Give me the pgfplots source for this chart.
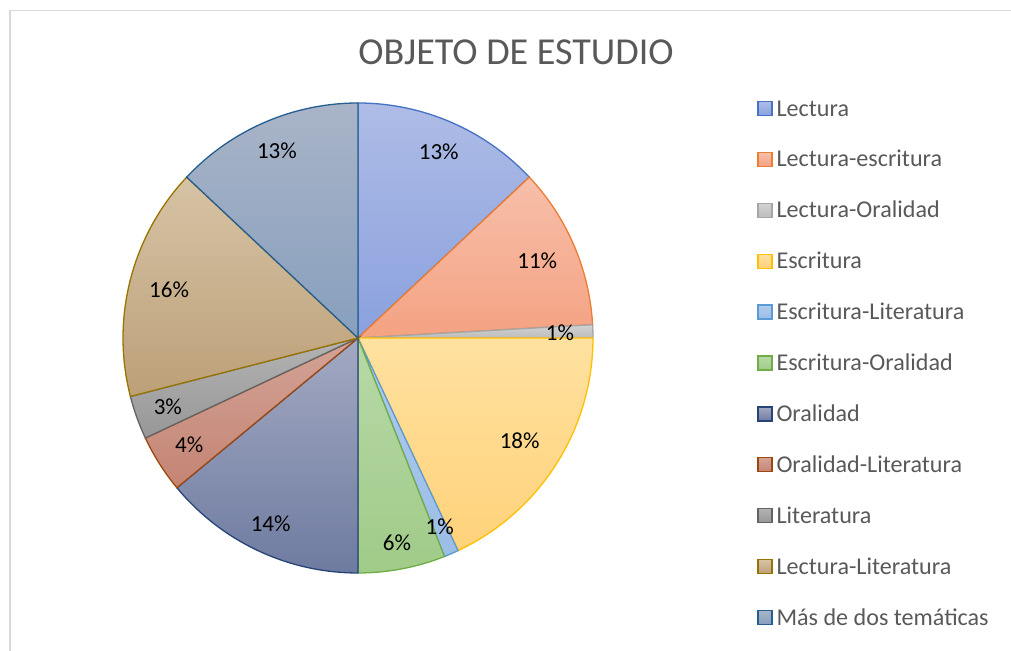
\documentclass[border=0pt]{standalone}
\usepackage{fontspec}
\setmainfont{Carlito}
\usepackage{pgfplots}
\usepackage{pgfplotstable}
\pgfplotsset{compat=1.18}

% border, top and bottom shade per slice
\definecolor{b0}{HTML}{4472C4}\definecolor{t0}{HTML}{AEBCE6}\definecolor{d0}{HTML}{8AA1DE}
\definecolor{b1}{HTML}{ED7D31}\definecolor{t1}{HTML}{F7BFAA}\definecolor{d1}{HTML}{F4A282}
\definecolor{b2}{HTML}{A5A5A5}\definecolor{t2}{HTML}{D2D2D2}\definecolor{d2}{HTML}{BDBDBD}
\definecolor{b3}{HTML}{FFC000}\definecolor{t3}{HTML}{FFE1A0}\definecolor{d3}{HTML}{FFD27A}
\definecolor{b4}{HTML}{5B9BD5}\definecolor{t4}{HTML}{B0CCEE}\definecolor{d4}{HTML}{9CBDE6}
\definecolor{b5}{HTML}{70AD47}\definecolor{t5}{HTML}{B8D9A8}\definecolor{d5}{HTML}{A0CB88}
\definecolor{b6}{HTML}{264478}\definecolor{t6}{HTML}{A3A9C2}\definecolor{d6}{HTML}{6E7BA0}
\definecolor{b7}{HTML}{9E480E}\definecolor{t7}{HTML}{D3A397}\definecolor{d7}{HTML}{C48473}
\definecolor{b8}{HTML}{636363}\definecolor{t8}{HTML}{B3B3B3}\definecolor{d8}{HTML}{979797}
\definecolor{b9}{HTML}{997300}\definecolor{t9}{HTML}{D6C3A5}\definecolor{d9}{HTML}{BCA078}
\definecolor{b10}{HTML}{255E91}\definecolor{t10}{HTML}{A9B4C7}\definecolor{d10}{HTML}{879FBE}
\definecolor{txtgray}{HTML}{595959}
\definecolor{frame}{HTML}{D9D9D9}

% share (%) of each topic, clockwise from 12 o'clock;
% rad is the label's distance from the centre
\pgfplotstableread[col sep=comma]{
name,val,rad
Lectura,13.0,0.865
Lectura-escritura,11.1,0.83
Lectura-Oralidad,0.9,0.86
Escritura,18.0,0.815
Escritura-Literatura,1.0,0.875
Escritura-Oralidad,6.0,0.885
Oralidad,14.0,0.873
Oralidad-Literatura,4.0,0.851
Literatura,3.0,0.86
Lectura-Literatura,16.0,0.83
Más de dos temáticas,13.0,0.869
}\pietable

\pgfplotsset{
  pie legend/.style={legend image code/.code={
    \draw[draw=b#1, line width=1.3bp, top color=t#1, bottom color=d#1] (0bp,-4.5bp) rectangle (14bp,9.5bp);}},
}

\begin{document}
\begin{tikzpicture}
\path[use as bounding box] (0,0) rectangle (1011bp,651bp);
\draw[frame, line width=1.5bp] (10bp,0bp) -- (10bp,640.5bp) -- (1011bp,640.5bp);

\node[anchor=base, font=\fontsize{38.1bp}{40bp}\selectfont, text=txtgray, inner sep=0pt]
  at (516bp,586bp) {OBJETO DE ESTUDIO};

\begin{axis}[
    hide axis,
    x=235bp, y=235bp,
    xmin=-1, xmax=1, ymin=-1, ymax=1,
    at={(358bp,313bp)}, anchor=center,
    clip=false,
    legend cell align=left,
    legend style={
      at={(1.349,1.0049)}, anchor=north west,
      draw=none, fill=none, inner sep=0pt,
      font=\fontsize{24.1bp}{28bp}\selectfont, text=txtgray,
      nodes={inner sep=0pt, text height=15bp, text depth=5bp},
      row sep=30.75bp,
      /tikz/every odd column/.style={column sep=4bp},
    },
]
\pgfplotstablegetrowsof{\pietable}
\pgfmathtruncatemacro\nrows{\pgfplotsretval-1}

% slices
\def\cum{0}
\pgfplotsforeachungrouped \i in {0,...,\nrows}{
  \pgfplotstablegetelem{\i}{val}\of\pietable \let\v\pgfplotsretval
  \pgfmathsetmacro\a{90-3.6*\cum}
  \pgfmathsetmacro\b{90-3.6*(\cum+\v)}
  \pgfmathsetmacro\cum{\cum+\v}
  \edef\temp{\noexpand\draw[draw=b\i, line width=1.3bp, top color=t\i, bottom color=d\i]
    (axis cs:0,0) -- (axis cs:{cos(\a)},{sin(\a)}) arc[start angle=\a, end angle=\b, radius=235bp] -- cycle;}
  \temp
}

% percentage labels
\def\cum{0}
\pgfplotsforeachungrouped \i in {0,...,\nrows}{
  \pgfplotstablegetelem{\i}{val}\of\pietable \let\v\pgfplotsretval
  \pgfplotstablegetelem{\i}{rad}\of\pietable \let\r\pgfplotsretval
  \pgfmathsetmacro\m{90-3.6*(\cum+\v/2)}
  \pgfmathsetmacro\cum{\cum+\v}
  \pgfmathtruncatemacro\pct{round(\v)}
  \edef\temp{\noexpand\node[font=\noexpand\fontsize{23bp}{26bp}\noexpand\selectfont, inner sep=0pt]
    at (axis cs:{\r*cos(\m)},{\r*sin(\m)}) {\pct\noexpand\%};}
  \temp
}

% legend
\pgfplotsforeachungrouped \i in {0,...,\nrows}{
  \pgfplotstablegetelem{\i}{name}\of\pietable
  \edef\temp{\noexpand\addlegendimage{pie legend=\i}\noexpand\addlegendentry{\pgfplotsretval}}
  \temp
}
\end{axis}
\end{tikzpicture}
\end{document}
